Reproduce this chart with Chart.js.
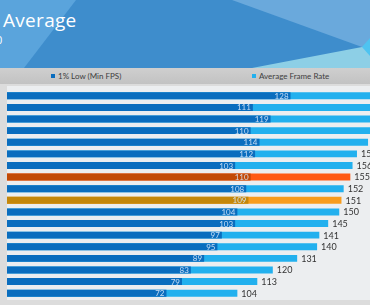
<!DOCTYPE html>
<html>
<head>
<meta charset="utf-8">
<script src="https://cdn.jsdelivr.net/npm/chart.js@4/dist/chart.umd.min.js"></script>
<style>
  html, body { margin: 0; padding: 0; background: #dcdcdc; }
  #wrap { position: relative; width: 370px; height: 305px; overflow: hidden; background: #dcdcdc; font-family: Lato, sans-serif; }
  .shape { position: absolute; left: 0; top: 0; width: 370px; height: 68px; }
  #banner { background: #3e8dcc; }
  #title { position: absolute; left: 3px; top: 7px; color: #fff; font: 400 19px "Open Sans", sans-serif; letter-spacing: 0.3px; }
  #subtitle { position: absolute; left: -4px; top: 32px; color: #fff; font: 400 11px "Open Sans", sans-serif; }
  #legend { position: absolute; left: 0; top: 68px; width: 370px; height: 16px; background: linear-gradient(#cfcfcf, #c2c2c2); }
  .item { position: absolute; top: 3px; font-size: 8px; color: #404040; white-space: nowrap; line-height: 10px; }
  .item i { display: inline-block; width: 4px; height: 4px; margin-right: 3px; vertical-align: 1px; }
  #panel { position: absolute; left: 7px; top: 86px; width: 363px; height: 214px; background: #eceef0; }
  #chart { position: absolute; left: 0; top: 84px; }
</style>
</head>
<body>
<div id="wrap">
  <div class="shape" id="banner"></div>
  <div class="shape" style="background:#5aa4dc; clip-path: polygon(0 0, 76px 0, 24px 68px, 0 68px);"></div>
  <div class="shape" style="background:#6aa9dc; clip-path: polygon(232px 0, 370px 0, 370px 44px, 362px 47px);"></div>
  <div class="shape" style="background:#8dcfe6; clip-path: polygon(252px 68px, 362px 47px, 370px 44px, 370px 68px);"></div>
  <div class="shape" style="background:#4ec3f0; clip-path: polygon(362px 47px, 370px 38px, 370px 56px);"></div>
  <div id="title">Average</div>
  <div id="subtitle">0</div>
  <div id="legend">
    <div class="item" style="left:51px"><i style="background:#0a6dbe"></i><span id="lg0"></span></div>
    <div class="item" style="left:252px"><i style="background:#22b0ee"></i><span id="lg1"></span></div>
  </div>
  <div id="panel"></div>
  <canvas id="chart" width="450" height="221"></canvas>
</div>
<script>
"use strict";

// rows top to bottom, GPU names are cropped out of the picture
const categories = ['1', '2', '3', '4', '5', '6', '7', '8', '9', '10', '11', '12', '13', '14', '15', '16', '17', '18'];
const lowFps = [128, 111, 119, 110, 114, 112, 103, 110, 108, 109, 104, 103, 97, 95, 89, 83, 79, 72];
const avgFps = [185, 176, 171, 166, 163, 158, 156, 155, 152, 151, 150, 145, 141, 140, 131, 120, 113, 104];
const seriesNames = ['1% Low (Min FPS)', 'Average Frame Rate'];
const highlightRed = 7;
const highlightGold = 9;

const darkColors = lowFps.map((v, i) => i === highlightRed ? '#c24a06' : i === highlightGold ? '#c4870a' : '#0a6dbe');
const lightColors = avgFps.map((v, i) => i === highlightRed ? '#ff5a14' : i === highlightGold ? '#f89c1c' : '#22b0ee');

document.getElementById('lg0').textContent = seriesNames[0];
document.getElementById('lg1').textContent = seriesNames[1];

const valueLabels = {
  id: 'valueLabels',
  afterDatasetsDraw(chart) {
    const ctx = chart.ctx;
    ctx.save();
    ctx.textBaseline = 'middle';
    chart.getDatasetMeta(0).data.forEach((bar, i) => {
      ctx.font = '8px Lato';
      ctx.fillStyle = 'rgba(215,232,252,0.9)';
      ctx.textAlign = 'right';
      ctx.fillText(lowFps[i], bar.x - 2, bar.y + 0.5);
    });
    chart.getDatasetMeta(1).data.forEach((bar, i) => {
      ctx.font = '9px Lato';
      ctx.fillStyle = '#333';
      ctx.textAlign = 'left';
      ctx.fillText(avgFps[i], bar.x + 4, bar.y + 0.5);
    });
    ctx.restore();
  }
};

new Chart(document.getElementById('chart'), {
  type: 'bar',
  data: {
    labels: categories,
    datasets: [
      { label: seriesNames[0], data: lowFps, backgroundColor: darkColors, grouped: false, barPercentage: 0.6, categoryPercentage: 1 },
      { label: seriesNames[1], data: avgFps, backgroundColor: lightColors, grouped: false, barPercentage: 0.6, categoryPercentage: 1 },
    ],
  },
  options: {
    indexAxis: 'y',
    responsive: false,
    animation: false,
    devicePixelRatio: 1,
    layout: { padding: { top: 6, bottom: 6, left: 7, right: 0 } },
    scales: {
      x: { display: false, min: 0, max: 200 },
      y: { display: false },
    },
    plugins: {
      legend: { display: false },
      tooltip: { enabled: false },
    },
  },
  plugins: [valueLabels],
});
</script>
</body>
</html>
